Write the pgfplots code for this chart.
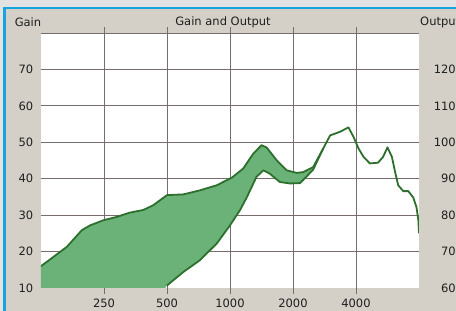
\documentclass[border=0pt]{standalone}
\usepackage{pgfplots}
\pgfplotsset{compat=1.18}
\usepackage{fontspec}
\setmainfont{DejaVu Sans}
\definecolor{panel}{RGB}{212,208,200}
\definecolor{outerc}{RGB}{228,226,226}
\definecolor{cyanb}{RGB}{20,165,225}
\definecolor{gridc}{RGB}{120,108,108}
\definecolor{fillg}{RGB}{106,178,120}
\definecolor{lineg}{RGB}{45,112,45}
\definecolor{txt}{RGB}{30,30,30}
\begin{document}
\fontsize{11.5}{13}\selectfont
\begin{tikzpicture}[x=1pt,y=1pt]
\useasboundingbox (0,0) rectangle (456,311);
\clip (0,0) rectangle (456,311);
\fill[outerc] (0,0) rectangle (456,311);
\fill[panel] (5.7,0) rectangle (456,302);
\draw[cyanb, line width=2.4pt] (4.5,0) -- (4.5,303.2) -- (456,303.2);
\node[text=txt] at (28,288.3) {Gain};
\node[text=txt] at (223,288.3) {Gain and Output};
\node[text=txt, anchor=west, inner sep=0pt] at (420,288.3) {Output};
\begin{axis}[at={(41pt,23pt)}, anchor=south west, scale only axis,
  width=378pt, height=255pt, xmin=0, xmax=6, ymin=10, ymax=80,
  axis background/.style={fill=white},
  axis line style={draw=none},
  xtick={1,2,3,4,5}, xticklabels={250,500,1000,2000,4000},
  ytick={20,30,40,50,60,70,80}, yticklabels={20,30,40,50,60,70,{}},
  extra y ticks={10}, extra y tick labels={10}, extra y tick style={grid=none},
  grid=major, grid style={draw=gridc, line width=0.8pt},
  tick align=outside, major tick length=6pt,
  xtick style={draw=gridc, line width=0.8pt},
  ytick style={draw=none},
  every tick label/.append style={font=\fontsize{11.5}{13}\selectfont, text=txt},
  yticklabel style={anchor=east, inner sep=0pt, xshift=-1.5pt},
  xticklabel style={anchor=north, inner sep=0pt, yshift=-5pt},
  clip=true,
]
\addplot[fill=fillg, draw=none] coordinates {
(0,16.0) (0.195,18.5) (0.41,21.3) (0.65,25.9) (0.78,27.2) (0.99,28.6) (1.20,29.5)
(1.41,30.7) (1.62,31.4) (1.78,32.7) (2.00,35.5) (2.26,35.7) (2.52,36.8) (2.79,38.2)
(3.03,40.3) (3.21,42.8) (3.37,46.9) (3.50,49.2) (3.58,48.6) (3.74,45.1) (3.90,42.3)
(4.06,41.6) (4.16,41.8) (4.32,43.2) (4.48,48.3)
(4.32,42.5) (4.16,39.6) (4.11,38.8) (3.95,38.7) (3.79,39.1) (3.63,41.4) (3.53,42.3)
(3.42,40.5) (3.27,35.0) (3.16,31.4) (3.00,27.2) (2.79,22.2) (2.52,17.6) (2.26,14.4)
(2.00,10.7) (1.97,10) (0,10)
} -- cycle;
\addplot[draw=lineg, line width=1.8pt, line join=round] coordinates {
(2.00,10.7) (2.26,14.4) (2.52,17.6) (2.79,22.2) (3.00,27.2) (3.16,31.4) (3.27,35.0)
(3.42,40.5) (3.53,42.3) (3.63,41.4) (3.79,39.1) (3.95,38.7) (4.11,38.8) (4.16,39.6)
(4.32,42.5) (4.48,48.3)
};
\addplot[draw=lineg, line width=1.8pt, line join=round] coordinates {
(0,16.0) (0.195,18.5) (0.41,21.3) (0.65,25.9) (0.78,27.2) (0.99,28.6) (1.20,29.5)
(1.41,30.7) (1.62,31.4) (1.78,32.7) (2.00,35.5) (2.26,35.7) (2.52,36.8) (2.79,38.2)
(3.03,40.3) (3.21,42.8) (3.37,46.9) (3.50,49.2) (3.58,48.6) (3.74,45.1) (3.90,42.3)
(4.06,41.6) (4.16,41.8) (4.32,43.2) (4.48,48.3) (4.59,51.9) (4.75,52.9) (4.88,54.1)
(4.96,51.5) (5.04,48.3) (5.12,46.0) (5.22,44.2) (5.35,44.4) (5.43,46.0) (5.50,48.6)
(5.57,46.0) (5.62,41.9) (5.67,38.2) (5.75,36.6) (5.83,36.6) (5.91,34.8) (5.96,32.2)
(5.99,28.6) (6.00,25.0)
};
\end{axis}
\begin{axis}[at={(41pt,23pt)}, anchor=south west, scale only axis,
  width=378pt, height=255pt, xmin=0, xmax=6, ymin=60, ymax=130,
  axis y line*=right, axis x line=none, axis line style={draw=none},
  ytick={60,70,80,90,100,110,120}, yticklabels={60,70,80,90,100,110,120},
  ytick style={draw=none},
  every tick label/.append style={font=\fontsize{11.5}{13}\selectfont, text=txt},
  yticklabel style={anchor=east, inner sep=0pt, xshift=37pt},
]
\addplot[draw=none] coordinates {(0,60) (6,60)};
\end{axis}
\end{tikzpicture}
\end{document}
